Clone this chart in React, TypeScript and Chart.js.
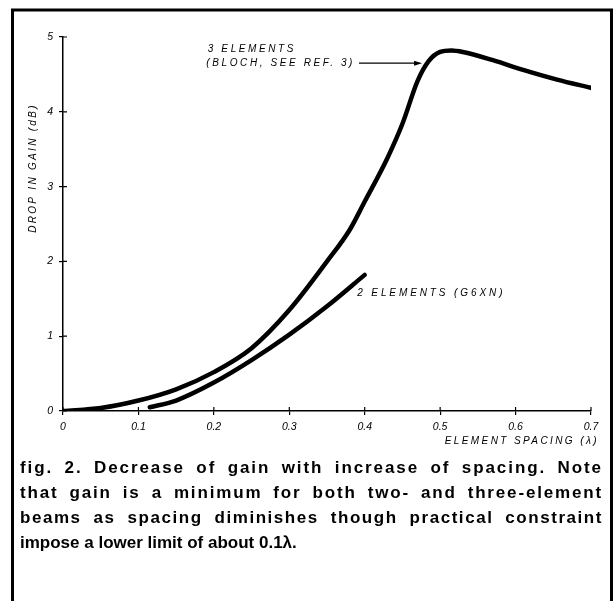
import React, { useEffect, useRef } from "react";
import { Chart, registerables } from "chart.js";

Chart.register(...registerables);

// ---- data ----
const xTickValues = [0, 0.1, 0.2, 0.3, 0.4, 0.5, 0.6, 0.7];
const xTickLabels = ["0", "0.1", "0.2", "0.3", "0.4", "0.5", "0.6", "0.7"];
const yTickValues = [0, 1, 2, 3, 4, 5];

const threeSpacing = [0, 0.05, 0.1, 0.15, 0.2, 0.25, 0.3, 0.35, 0.38, 0.4, 0.43, 0.45, 0.47, 0.485, 0.5, 0.515, 0.53, 0.57, 0.61, 0.655, 0.7];
const threeDrop = [0, 0.04, 0.14, 0.29, 0.52, 0.84, 1.35, 2.0, 2.42, 2.8, 3.38, 3.84, 4.41, 4.68, 4.8, 4.82, 4.8, 4.69, 4.56, 4.43, 4.32];

const twoSpacing = [0.115, 0.15, 0.2, 0.25, 0.3, 0.35, 0.4];
const twoDrop = [0.05, 0.14, 0.38, 0.68, 1.02, 1.4, 1.82];

const threeLabel = ["3 ELEMENTS", "(BLOCH, SEE REF. 3)"];
const twoLabel = "2 ELEMENTS (G6XN)";
const xTitle = "ELEMENT SPACING (\u03bb)";
const yTitle = "DROP IN GAIN (dB)";
const caption = [
  "fig. 2. Decrease of gain with increase of spacing. Note",
  "that gain is a minimum for both two- and three-element",
  "beams as spacing diminishes though practical constraint",
  "impose a lower limit of about 0.1\u03bb.",
];

const W = 616;
const H = 601;
const LABEL_FONT = "italic 10px 'Liberation Sans', Arial, sans-serif";

const decorPlugin = {
  id: "decor",
  afterDraw(chart: any) {
    const ctx = chart.ctx as CanvasRenderingContext2D;
    const xs = chart.scales.x;
    const ys = chart.scales.y;
    const area = chart.chartArea;
    ctx.save();
    ctx.strokeStyle = "#000";
    ctx.fillStyle = "#000";

    // frame (left, top, right)
    ctx.lineWidth = 3;
    ctx.beginPath();
    ctx.moveTo(12.5, H);
    ctx.lineTo(12.5, 10);
    ctx.lineTo(611.5, 10);
    ctx.lineTo(611.5, H);
    ctx.stroke();

    // inner halves of the tick marks
    ctx.lineWidth = 1.2;
    ctx.beginPath();
    xTickValues.forEach((v) => {
      const px = xs.getPixelForValue(v);
      ctx.moveTo(px, area.bottom);
      ctx.lineTo(px, area.bottom - 4);
    });
    yTickValues.forEach((v) => {
      const py = ys.getPixelForValue(v);
      ctx.moveTo(area.left, py);
      ctx.lineTo(area.left + 4, py);
    });
    ctx.stroke();

    const setSpacing = (s: string) => {
      (ctx as any).letterSpacing = s;
    };

    // annotations
    ctx.font = LABEL_FONT;
    ctx.textAlign = "left";
    ctx.textBaseline = "middle";
    setSpacing("2.6px");
    ctx.fillText(threeLabel[0], xs.getPixelForValue(0.192), ys.getPixelForValue(4.83));
    ctx.fillText(threeLabel[1], xs.getPixelForValue(0.19), ys.getPixelForValue(4.65));
    const bw = ctx.measureText(threeLabel[1]).width;
    // arrow
    const ax0 = xs.getPixelForValue(0.19) + bw + 4;
    const ax1 = xs.getPixelForValue(0.476);
    const ay = ys.getPixelForValue(4.65);
    ctx.lineWidth = 1.2;
    ctx.beginPath();
    ctx.moveTo(ax0, ay);
    ctx.lineTo(ax1 - 6, ay);
    ctx.stroke();
    ctx.beginPath();
    ctx.moveTo(ax1, ay);
    ctx.lineTo(ax1 - 8, ay - 2.5);
    ctx.lineTo(ax1 - 8, ay + 2.5);
    ctx.closePath();
    ctx.fill();

    setSpacing("2.9px");
    ctx.fillText(twoLabel, xs.getPixelForValue(0.39), ys.getPixelForValue(1.575));

    // x title
    setSpacing("2.4px");
    ctx.textAlign = "right";
    ctx.fillText(xTitle, 599, 441);

    // y title
    ctx.save();
    ctx.translate(33, 168);
    ctx.rotate(-Math.PI / 2);
    ctx.textAlign = "center";
    setSpacing("2.3px");
    ctx.fillText(yTitle, 0, 0);
    ctx.restore();

    // caption: lines 1-3 justified (mostly letter spacing, some word gap), last line natural
    ctx.font = "bold 17px 'Liberation Sans', Arial, sans-serif";
    ctx.textAlign = "left";
    ctx.textBaseline = "alphabetic";
    const left = 20;
    const right = 603;
    caption.forEach((line, i) => {
      const y = 466.7 + i * 25 + 6;
      setSpacing("0px");
      if (i < caption.length - 1) {
        const words = line.split(" ");
        const natural = ctx.measureText(line).width;
        const extra = right - left - natural;
        const ls = (extra * 0.7) / (line.length - 1);
        setSpacing(ls.toFixed(3) + "px");
        const ww = words.map((w) => ctx.measureText(w).width);
        const sum = ww.reduce((a, b) => a + b, 0);
        const gap = (right - left - sum) / (words.length - 1);
        let x = left;
        words.forEach((w, k) => {
          ctx.fillText(w, x, y);
          x += ww[k] + gap;
        });
      } else {
        ctx.fillText(line, left, y);
      }
    });
    ctx.restore();
  },
};

export default function App() {
  const ref = useRef<HTMLCanvasElement | null>(null);
  useEffect(() => {
    if (!ref.current) return;
    const chart = new Chart(ref.current, {
      type: "line",
      data: {
        datasets: [
          {
            label: "3 elements",
            data: threeSpacing.map((x, i) => ({ x, y: threeDrop[i] })),
            borderColor: "#000",
            borderWidth: 4.5,
            pointRadius: 0,
            cubicInterpolationMode: "monotone",
            borderCapStyle: "round",
            fill: false,
          },
          {
            label: "2 elements",
            data: twoSpacing.map((x, i) => ({ x, y: twoDrop[i] })),
            borderColor: "#000",
            borderWidth: 4.5,
            pointRadius: 0,
            cubicInterpolationMode: "monotone",
            borderCapStyle: "round",
            fill: false,
          },
        ],
      },
      options: {
        responsive: false,
        animation: false,
        devicePixelRatio: 1,
        layout: { padding: { top: 37, right: 25, left: 0, bottom: 0 } },
        plugins: {
          legend: { display: false },
          tooltip: { enabled: false },
          title: { display: false },
        },
        scales: {
          x: {
            type: "linear",
            min: 0,
            max: 0.7,
            afterFit: (s: any) => {
              s.height = 190;
            },
            afterBuildTicks: (s: any) => {
              s.ticks = xTickValues.map((v) => ({ value: v }));
            },
            ticks: {
              color: "#000",
              font: { family: "'Liberation Sans', Arial, sans-serif", size: 10.5, style: "italic" },
              padding: 6,
              maxRotation: 0,
              autoSkip: false,
              callback: (v: any) => {
                const idx = xTickValues.findIndex((t) => Math.abs(t - Number(v)) < 1e-9);
                return idx >= 0 ? xTickLabels[idx] : "";
              },
            },
            grid: {
              display: true,
              drawOnChartArea: false,
              drawTicks: true,
              tickLength: 4,
              color: "#000",
              lineWidth: 1.2,
            },
            border: { display: true, color: "#000", width: 1.5 },
          },
          y: {
            type: "linear",
            min: 0,
            max: 5,
            afterFit: (s: any) => {
              s.width = 63;
            },
            afterBuildTicks: (s: any) => {
              s.ticks = yTickValues.map((v) => ({ value: v }));
            },
            ticks: {
              color: "#000",
              font: { family: "'Liberation Sans', Arial, sans-serif", size: 10.5, style: "italic" },
              padding: 6,
              callback: (v: any) => String(v),
            },
            grid: {
              display: true,
              drawOnChartArea: false,
              drawTicks: true,
              tickLength: 4,
              color: "#000",
              lineWidth: 1.2,
            },
            border: { display: true, color: "#000", width: 1.5 },
          },
        },
      } as any,
      plugins: [decorPlugin],
    });
    return () => chart.destroy();
  }, []);
  return (
    <div style={{ position: "absolute", left: 0, top: 0, width: W, height: H, background: "#fff" }}>
      <canvas ref={ref} width={W} height={H} style={{ display: "block", width: W, height: H }} />
    </div>
  );
}
